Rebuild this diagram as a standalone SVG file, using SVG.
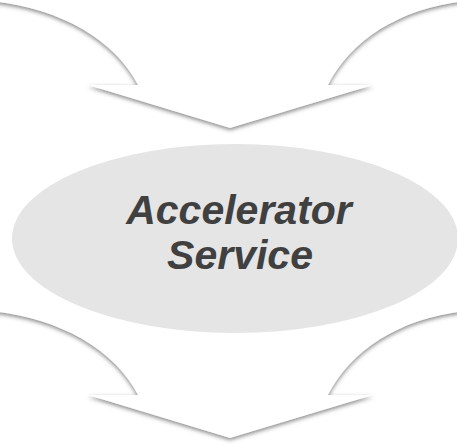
<svg xmlns="http://www.w3.org/2000/svg" width="457" height="444" viewBox="0 0 457 444">
<defs>
<filter id="sh" x="-10%" y="0%" width="120%" height="120%">
<feDropShadow dx="0" dy="2" stdDeviation="2" flood-color="#555" flood-opacity="0.7"/>
</filter>
<path id="arrow" d="M-30,-30 L-10,1 C60,8 115,40 138,85 L88,85 L230,128 L373,85 L328,85 C351,40 400,8 467,1 L487,-30 Z"/>
</defs>
<style>
.arr{fill:#ffffff;filter:url(#sh)}
.lbl{font-family:"Liberation Sans",Arial,sans-serif;font-weight:bold;font-style:italic;font-size:41px;fill:#404040;text-anchor:middle}
</style>
<rect width="457" height="444" fill="#ffffff"/>
<g id="connectors">
<use href="#arrow" class="arr"/>
<use href="#arrow" class="arr" transform="translate(0,310)"/>
</g>
<g id="accelerator-service">
<ellipse cx="235" cy="238.5" rx="223" ry="94.5" fill="#e5e5e5"/>
<text class="lbl" x="239" y="224">Accelerator</text>
<text class="lbl" x="240" y="269">Service</text>
</g>
</svg>
